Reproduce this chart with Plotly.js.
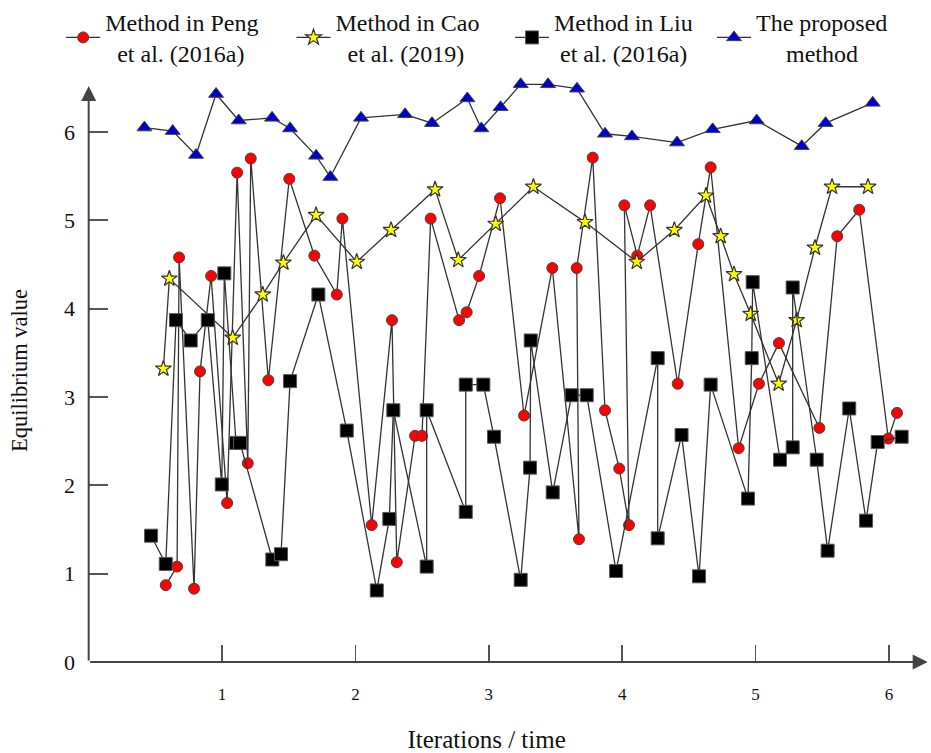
<!DOCTYPE html>
<html>
<head>
<meta charset="utf-8">
<script src="https://cdn.plot.ly/plotly-3.0.1.min.js"></script>
<style>html,body{margin:0;padding:0;background:#fff;}#chart{width:931px;height:753px;}</style>
</head>
<body>
<div id="chart"></div>
<script>
// Method in Peng et al. (2016a)
const pengX = [0.578,0.663,0.678,0.790,0.835,0.918,1.038,1.113,1.193,1.215,1.347,1.504,1.692,1.860,1.902,2.122,2.274,2.310,2.447,2.499,2.564,2.777,2.834,2.927,3.084,3.264,3.476,3.676,3.659,3.779,3.871,3.978,4.051,4.016,4.113,4.209,4.416,4.570,4.663,4.873,5.025,5.175,5.478,5.612,5.777,5.995,6.060];
const pengY = [0.87,1.08,4.58,0.83,3.29,4.37,1.80,5.54,2.25,5.70,3.19,5.47,4.60,4.16,5.02,1.55,3.87,1.13,2.56,2.56,5.02,3.87,3.96,4.37,5.25,2.79,4.46,1.39,4.46,5.71,2.85,2.19,1.55,5.17,4.60,5.17,3.15,4.73,5.60,2.42,3.15,3.61,2.65,4.82,5.12,2.53,2.82];
// Method in Cao et al. (2019)
const caoX = [0.560,0.605,1.080,1.305,1.460,1.705,2.010,2.267,2.597,2.771,3.052,3.334,3.721,4.109,4.391,4.628,4.738,4.838,4.963,5.173,5.308,5.445,5.573,5.843];
const caoY = [3.32,4.34,3.67,4.16,4.52,5.06,4.53,4.89,5.35,4.55,4.96,5.38,4.98,4.53,4.89,5.28,4.82,4.39,3.94,3.15,3.87,4.69,5.38,5.38];
// Method in Liu et al. (2016a)
const liuX = [0.468,0.578,0.655,0.765,0.893,0.998,1.017,1.105,1.135,1.377,1.442,1.510,1.722,1.935,2.160,2.254,2.284,2.534,2.534,2.827,2.827,2.959,3.039,3.239,3.309,3.314,3.479,3.621,3.734,3.954,4.266,4.266,4.445,4.576,4.663,4.943,4.971,4.978,5.183,5.278,5.278,5.458,5.540,5.702,5.828,5.915,6.095];
const liuY = [1.43,1.11,3.87,3.64,3.87,2.01,4.40,2.48,2.48,1.16,1.22,3.18,4.16,2.62,0.81,1.62,2.85,1.08,2.85,1.70,3.14,3.14,2.55,0.93,2.20,3.64,1.92,3.02,3.02,1.03,3.44,1.40,2.57,0.97,3.14,1.85,3.44,4.30,2.29,2.43,4.24,2.29,1.26,2.87,1.60,2.49,2.55];
// The proposed method
const propX = [0.418,0.630,0.805,0.955,1.125,1.375,1.510,1.705,1.812,2.042,2.372,2.574,2.839,2.944,3.088,3.239,3.444,3.661,3.871,4.073,4.411,4.678,5.008,5.346,5.525,5.878];
const propY = [6.05,6.01,5.74,6.43,6.13,6.16,6.04,5.73,5.49,6.16,6.20,6.10,6.38,6.04,6.28,6.54,6.54,6.49,5.98,5.95,5.88,6.03,6.13,5.84,6.10,6.33];

const names = [
  "Method in Peng<br>&nbsp;&nbsp;et al. (2016a)",
  "Method in Cao<br>&nbsp;&nbsp;et al. (2019)",
  "Method in Liu<br>&nbsp;et al. (2016a)",
  "The proposed<br>&nbsp;&nbsp;&nbsp;&nbsp;&nbsp;method"
];
const xTicks = [1,2,3,4,5,6];
const yTicks = [0,1,2,3,4,5,6];

const FONT = "Liberation Serif, Times New Roman, serif";
const LINE = {color:'#333333', width:1.3};

const traces = [
  {x:pengX, y:pengY, name:names[0], legend:'legend', mode:'lines+markers', line:LINE, cliponaxis:false,
   marker:{symbol:'circle', size:11, color:'#ff0000', line:{color:'#444', width:1}}},
  {x:caoX, y:caoY, name:names[1], legend:'legend2', mode:'lines+markers', line:LINE, cliponaxis:false,
   marker:{symbol:'star', size:12, color:'#ffff00', line:{color:'#333', width:1.2}}},
  {x:liuX, y:liuY, name:names[2], legend:'legend3', mode:'lines+markers', line:LINE, cliponaxis:false,
   marker:{symbol:'square', size:13, color:'#000000', line:{color:'#555', width:1}}},
  {x:propX, y:propY, name:names[3], legend:'legend4', mode:'lines+markers', line:LINE, cliponaxis:false,
   marker:{symbol:'triangle-up', size:13, color:'#0000cc', line:{color:'#444', width:1}}}
];

function leg(x){
  return {x:x, y:1.136, xanchor:'left', yanchor:'top', bgcolor:'rgba(0,0,0,0)', borderwidth:0,
          font:{family:FONT, size:24, color:'#111'}, itemwidth:34, valign:'middle'};
}

const layout = {
  width:931, height:753,
  margin:{l:88, r:2, t:79, b:91, autoexpand:false},
  paper_bgcolor:'#fff', plot_bgcolor:'#fff',
  font:{family:FONT, color:'#111'},
  showlegend:true,
  legend:leg(-0.0319), legend2:leg(0.2420), legend3:leg(0.5018), legend4:leg(0.7420),
  xaxis:{range:[-0.005,6.3], tickvals:xTicks, ticktext:xTicks.map(String), ticks:'inside', ticklen:17, tickwidth:1.5, tickcolor:'#555',
         showgrid:false, zeroline:false, showline:false, ticklabelstandoff:20,
         tickfont:{family:FONT, size:17, color:'#111'},
         title:{text:'Iterations / time&nbsp;&nbsp;&nbsp;&nbsp;&nbsp;&nbsp;&nbsp;', font:{family:FONT, size:25, color:'#111'}, standoff:27}},
  yaxis:{range:[0,6.6], tickvals:yTicks, ticktext:yTicks.map(String), ticks:'inside', ticklen:20, tickwidth:2, tickcolor:'#555',
         showgrid:false, zeroline:false, showline:false, ticklabelstandoff:12,
         tickfont:{family:FONT, size:22, color:'#111'},
         title:{text:'Equilibrium value', font:{family:FONT, size:22.5, color:'#111'}, standoff:30}},
  annotations:[
    {x:6.29, y:0, xref:'x', yref:'y', ax:0, ay:0, axref:'x', ayref:'y', text:'', showarrow:true,
     arrowhead:2, arrowsize:1.5, arrowwidth:2, arrowcolor:'#444', standoff:0, startstandoff:0},
    {x:0, y:6.52, xref:'x', yref:'y', ax:0, ay:0, axref:'x', ayref:'y', text:'', showarrow:true,
     arrowhead:2, arrowsize:1.5, arrowwidth:2, arrowcolor:'#444', standoff:0, startstandoff:0}
  ]
};

Plotly.newPlot('chart', traces, layout, {displayModeBar:false, staticPlot:true});
</script>
</body>
</html>
